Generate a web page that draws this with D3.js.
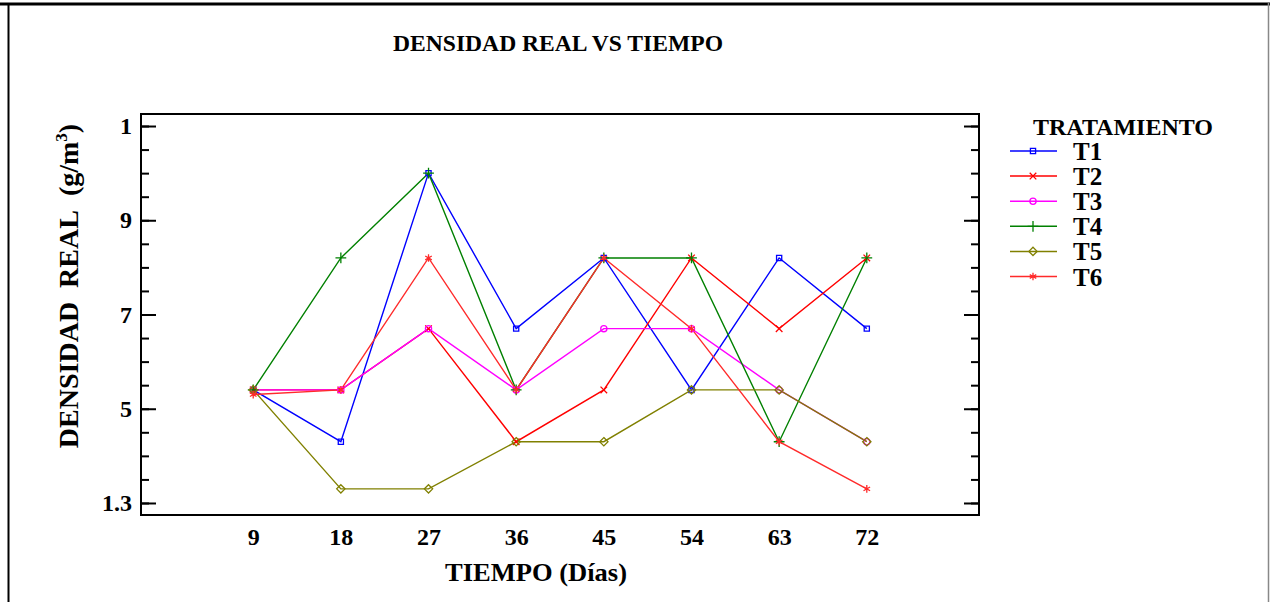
<!DOCTYPE html>
<html><head><meta charset="utf-8">
<script src="https://cdn.jsdelivr.net/npm/d3@7"></script>
<style>body{margin:0;background:#fff}svg{display:block}text{font-family:"Liberation Serif","Times New Roman",serif;font-weight:bold;fill:#000}</style>
</head><body><svg id="c" width="1270" height="602"></svg>
<script>
const days = [9, 18, 27, 36, 45, 54, 63, 72];
const T1 = [1.54, 1.43, 2.00, 1.67, 1.82, 1.54, 1.82, 1.67];
const T2 = [1.54, 1.54, 1.67, 1.43, 1.54, 1.82, 1.67, 1.82];
const T3 = [1.54, 1.54, 1.67, 1.54, 1.67, 1.67, 1.54, 1.43];
const T4 = [1.54, 1.82, 2.00, 1.54, 1.82, 1.82, 1.43, 1.82];
const T5 = [1.54, 1.33, 1.33, 1.43, 1.43, 1.54, 1.54, 1.43];
const T6 = [1.53, 1.54, 1.82, 1.54, 1.82, 1.67, 1.43, 1.33];
const seriesNames = ["T1", "T2", "T3", "T4", "T5", "T6"];
const yTickValues = [1.3, 1.5, 1.7, 1.9, 2.1];
const yTickLabels = ["1.3", "5", "7", "9", "1"];
const yMinorValues = d3.range(1.3, 2.1001, 0.05);

const colors = ["#0000ff", "#ff0000", "#ff00ff", "#008000", "#808000", "#ff2a2a"];
const symbols = [d3.symbolSquare2, d3.symbolTimes, d3.symbolCircle, d3.symbolPlus, d3.symbolDiamond2, d3.symbolAsterisk];
const symSizes = [34, 30, 30, 40, 44, 40];
const series = [T1, T2, T3, T4, T5, T6];

const svg = d3.select("#c");
const L = 141, R = 979, T = 114, B = 515;

// outer frame
svg.append("line").attr("x1", 0).attr("x2", 1270).attr("y1", 4).attr("y2", 4).attr("stroke", "#000").attr("stroke-width", 3);
svg.append("line").attr("x1", 8.5).attr("x2", 8.5).attr("y1", 3).attr("y2", 602).attr("stroke", "#000").attr("stroke-width", 2);
svg.append("line").attr("x1", 1268.5).attr("x2", 1268.5).attr("y1", 3).attr("y2", 602).attr("stroke", "#888").attr("stroke-width", 1.5);

const x = d3.scalePoint().domain(days).range([L, R]).padding(1.28);
const y = d3.scaleLinear().domain([1.2745, 2.1255]).range([B, T]);

// plot box
svg.append("rect").attr("x", L).attr("y", T).attr("width", R - L).attr("height", B - T)
  .attr("fill", "none").attr("stroke", "#000").attr("stroke-width", 2);

// y axis left: minor ticks
svg.append("g").attr("transform", `translate(${L},0)`)
  .call(d3.axisLeft(y).tickValues(yMinorValues).tickSize(-8).tickFormat(""))
  .call(g => { g.select(".domain").remove(); g.selectAll("line").attr("stroke-width", 2); });
// major
svg.append("g").attr("transform", `translate(${L},0)`)
  .call(d3.axisLeft(y).tickValues(yTickValues).tickSize(-15).tickPadding(9)
    .tickFormat((d, i) => yTickLabels[i]))
  .call(g => {
    g.select(".domain").remove();
    g.selectAll("line").attr("stroke-width", 2);
    g.selectAll("text").style("font-size", "24px").attr("font-family", null);
  });
// right side ticks
svg.append("g").attr("transform", `translate(${R},0)`)
  .call(d3.axisRight(y).tickValues(yMinorValues).tickSize(-8).tickFormat(""))
  .call(g => { g.select(".domain").remove(); g.selectAll("line").attr("stroke-width", 2); });
svg.append("g").attr("transform", `translate(${R},0)`)
  .call(d3.axisRight(y).tickValues(yTickValues).tickSize(-15).tickFormat(""))
  .call(g => { g.select(".domain").remove(); g.selectAll("line").attr("stroke-width", 2); });

// x axis
svg.append("g").attr("transform", `translate(0,${B})`)
  .call(d3.axisBottom(x).tickSize(0).tickPadding(13))
  .call(g => {
    g.select(".domain").remove();
    g.selectAll("text").style("font-size", "24px").attr("font-family", null);
  });

// titles
svg.append("text").attr("x", 558).attr("y", 51).attr("text-anchor", "middle")
  .style("font-size", "23px").attr("textLength", 330).attr("lengthAdjust", "spacingAndGlyphs")
  .text("DENSIDAD REAL VS TIEMPO");
svg.append("text").attr("x", 536).attr("y", 581).attr("text-anchor", "middle")
  .style("font-size", "26px").attr("textLength", 182).attr("lengthAdjust", "spacingAndGlyphs")
  .text("TIEMPO (Días)");
const yl = svg.append("text").attr("transform", "translate(78,286) rotate(-90)").attr("text-anchor", "middle")
  .style("font-size", "28px");
yl.append("tspan").text("DENSIDAD\u00a0 REAL\u00a0 (g/m");
yl.append("tspan").attr("dy", -11).style("font-size", "17px").text("3");
yl.append("tspan").attr("dy", 11).text(")");

// series
const line = d3.line().x((d, i) => x(days[i])).y(d => y(d));
series.forEach((s, k) => {
  svg.append("path").datum(s).attr("d", line).attr("fill", "none")
    .attr("stroke", colors[k]).attr("stroke-width", 1.4);
});
series.forEach((s, k) => {
  svg.append("g").selectAll("path").data(s).join("path")
    .attr("transform", (d, i) => `translate(${x(days[i])},${y(d)})`)
    .attr("d", d3.symbol(symbols[k], symSizes[k]))
    .attr("fill", "none").attr("stroke", colors[k]).attr("stroke-width", 1.3);
});

// legend
svg.append("text").attr("x", 1033).attr("y", 135).style("font-size", "24px")
  .attr("textLength", 180).attr("lengthAdjust", "spacingAndGlyphs").text("TRATAMIENTO");
seriesNames.forEach((n, k) => {
  const cy = 151 + k * 25.1;
  svg.append("line").attr("x1", 1010).attr("x2", 1057).attr("y1", cy).attr("y2", cy)
    .attr("stroke", colors[k]).attr("stroke-width", 1.5);
  svg.append("path").attr("transform", `translate(1033,${cy})`)
    .attr("d", d3.symbol(symbols[k], symSizes[k])).attr("fill", "none")
    .attr("stroke", colors[k]).attr("stroke-width", 1.3);
  svg.append("text").attr("x", 1073).attr("y", cy + 9).style("font-size", "25px").text(n);
});
</script></body></html>
